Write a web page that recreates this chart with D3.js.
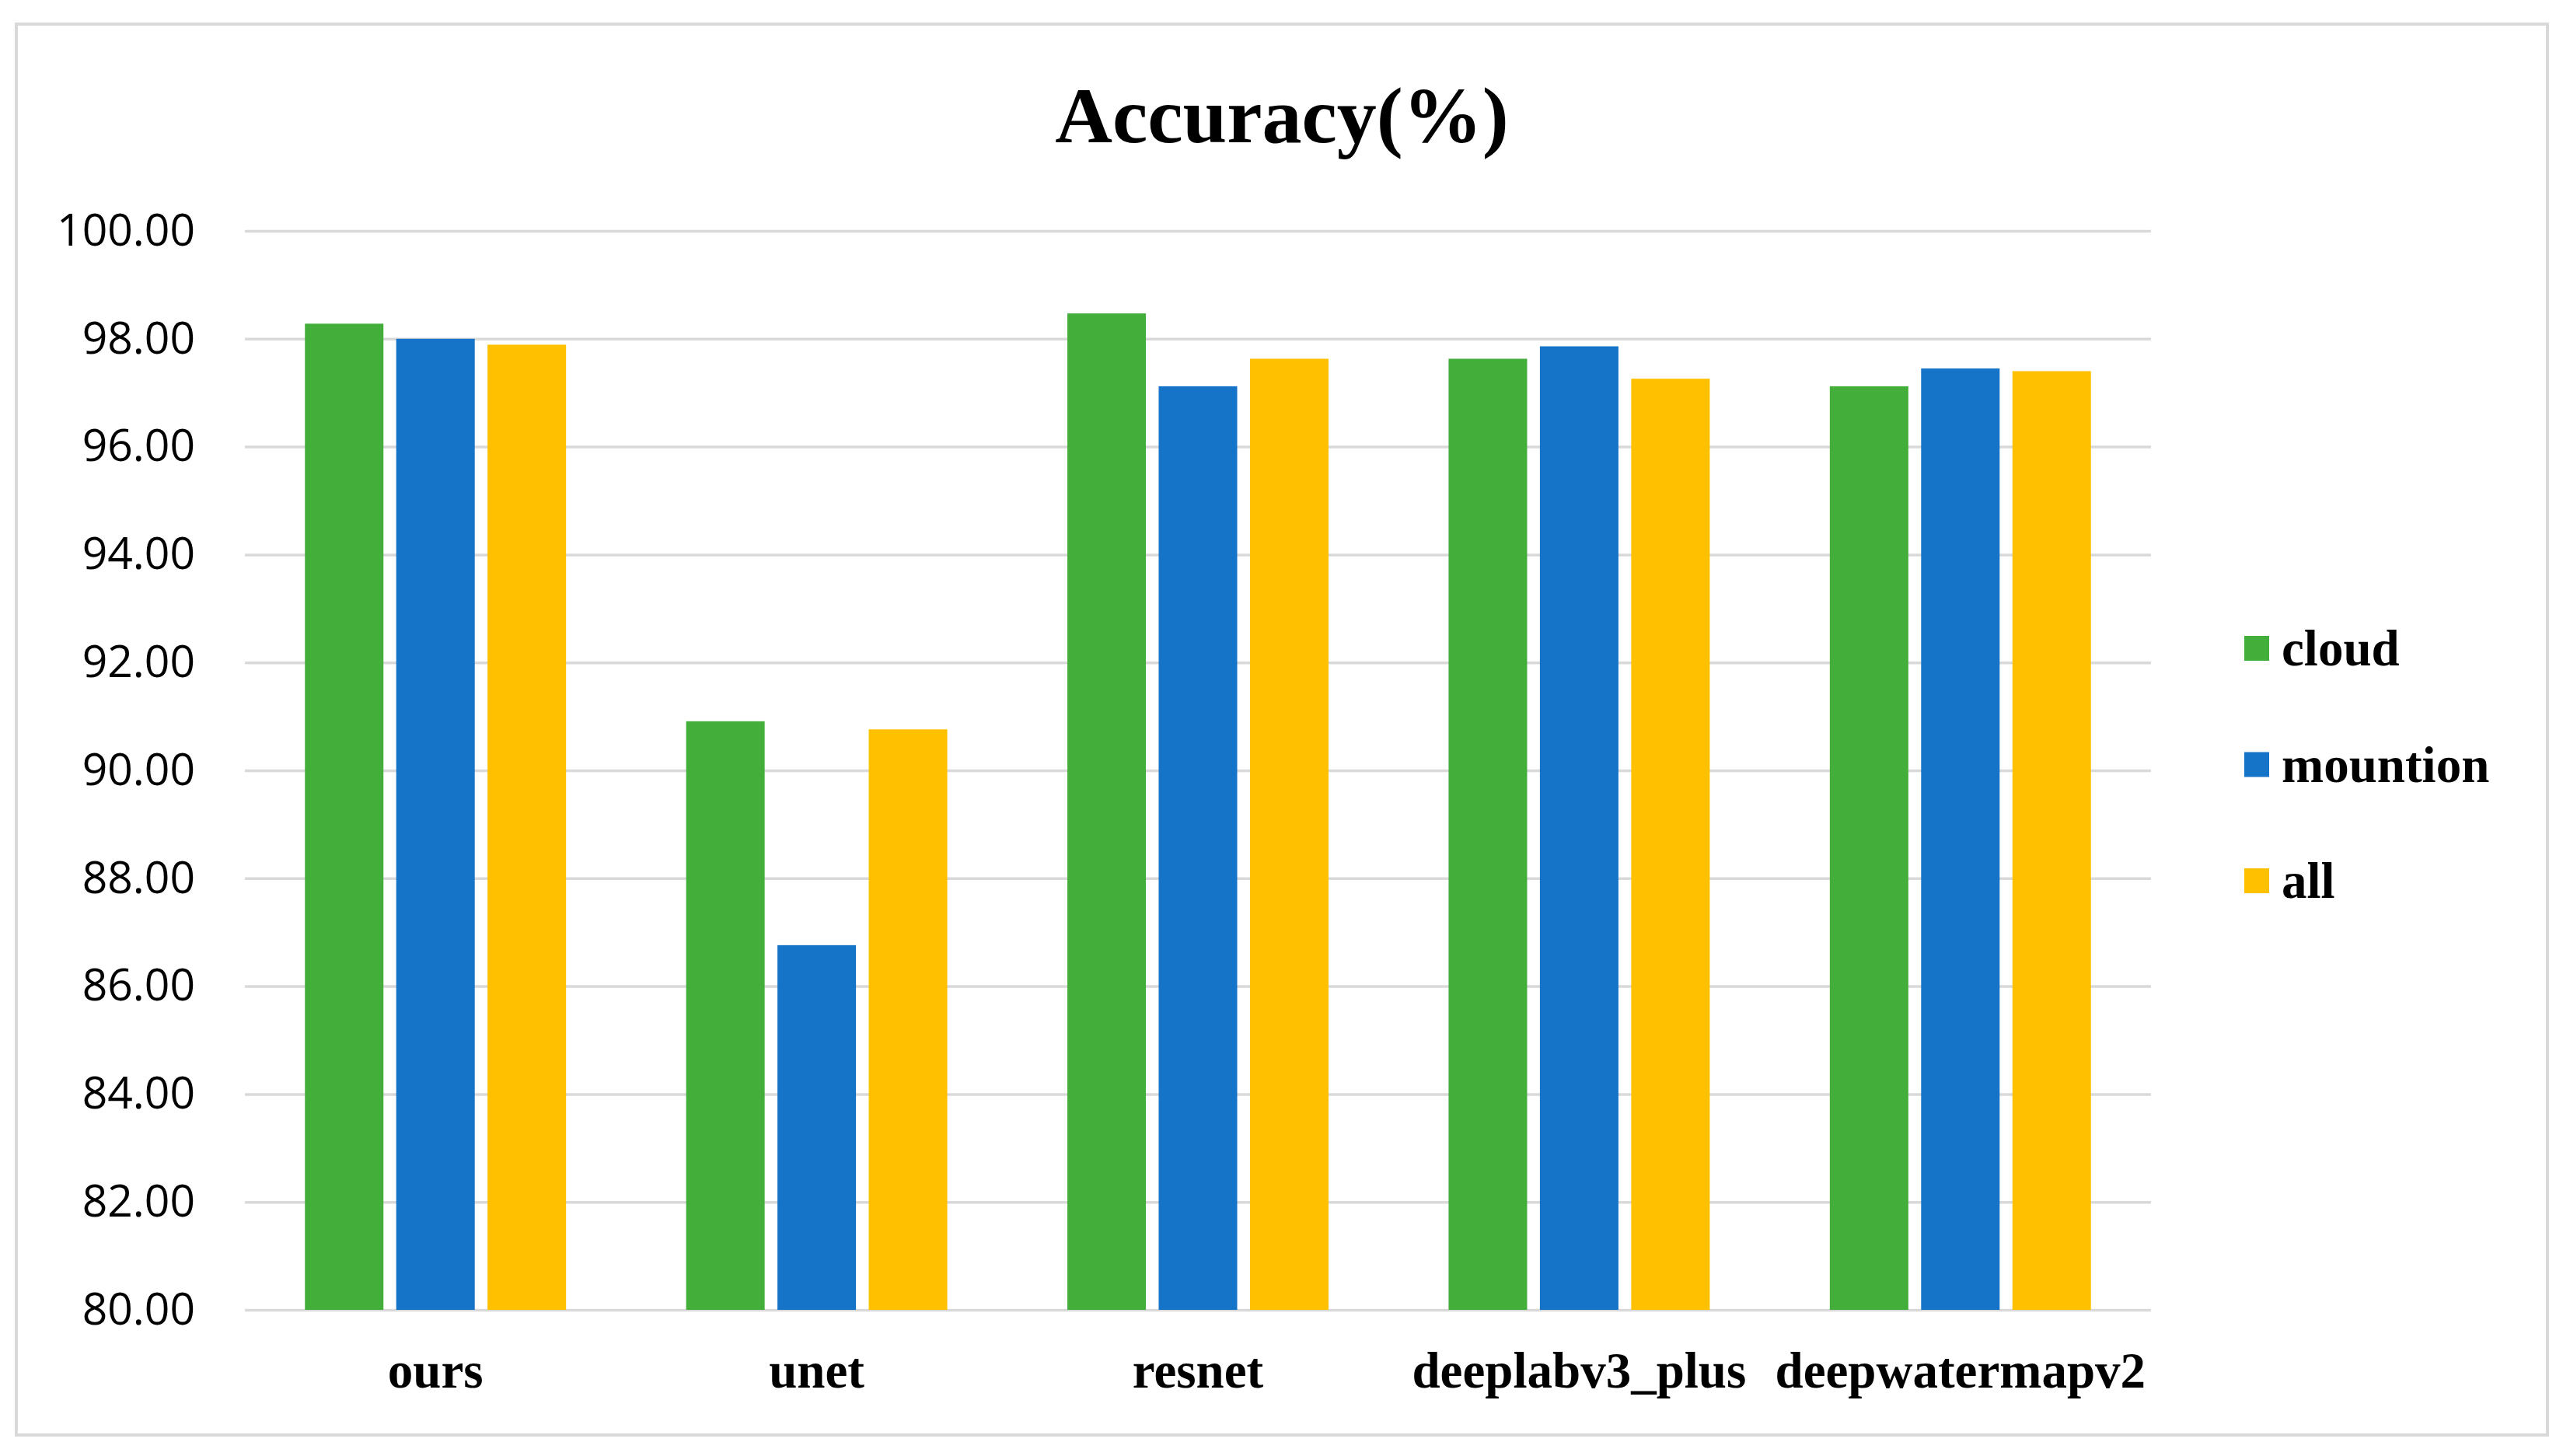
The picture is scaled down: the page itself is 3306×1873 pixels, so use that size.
<!DOCTYPE html>
<html>
<head>
<meta charset="utf-8">
<script src="https://cdn.jsdelivr.net/npm/d3@7"></script>
<style>
  html, body { margin: 0; padding: 0; background: #fff; }
  svg { display: block; }
</style>
</head>
<body>
<svg id="chart"></svg>
<script>
// ── DATA ─────────────────────────────────────────────────────────────────────
const categories = ['ours', 'unet', 'resnet', 'deeplabv3_plus', 'deepwatermapv2'];
const seriesNames = ['cloud', 'mountion', 'all'];
const cloud    = [98.28, 90.91, 98.47, 97.63, 97.12];
const mountion = [98.00, 86.76, 97.12, 97.86, 97.45];
const all      = [97.89, 90.76, 97.63, 97.26, 97.40];
const yTicks   = [80, 82, 84, 86, 88, 90, 92, 94, 96, 98, 100];

const seriesValues = { cloud, mountion, all };
const colors = { cloud: '#44ae3b', mountion: '#1573c8', all: '#ffc000' };

// ── SETUP ────────────────────────────────────────────────────────────────────
const W = 3306, H = 1873;
const svg = d3.select('#chart').attr('width', W).attr('height', H);

svg.append('rect').attr('width', W).attr('height', H).attr('fill', '#fff');

// chart frame
svg.append('rect')
  .attr('x', 21).attr('y', 31)
  .attr('width', 3256).attr('height', 1815)
  .attr('fill', '#fff')
  .attr('stroke', '#d9d9d9')
  .attr('stroke-width', 4);

const plot = { left: 315, right: 2767, top: 297, bottom: 1685 };

const x0 = d3.scaleBand().domain(categories).range([plot.left, plot.right]).padding(0);
const groupW = x0.bandwidth() * 0.685;
const x1 = d3.scaleBand().domain(seriesNames).range([0, groupW]).paddingInner(0.14).paddingOuter(0);
const y = d3.scaleLinear().domain([80, 100]).range([plot.bottom, plot.top]);

// ── GRID + Y AXIS ────────────────────────────────────────────────────────────
const yAxis = svg.append('g')
  .attr('transform', `translate(${plot.left},0)`)
  .call(d3.axisLeft(y).tickValues(yTicks).tickSize(-(plot.right - plot.left))
    .tickPadding(64).tickFormat(d3.format('.2f')));

yAxis.select('.domain').remove();
yAxis.selectAll('.tick line').attr('stroke', '#d9d9d9').attr('stroke-width', 3.5);
yAxis.selectAll('.tick text')
  .attr('font-family', '"Open Sans", sans-serif')
  .attr('font-size', 57)
  .attr('fill', '#000');

// ── BARS ─────────────────────────────────────────────────────────────────────
const groups = svg.append('g').selectAll('g')
  .data(categories)
  .join('g')
  .attr('transform', d => `translate(${x0(d) + (x0.bandwidth() - groupW) / 2},0)`);

groups.selectAll('rect')
  .data((d, i) => seriesNames.map(s => ({ s, v: seriesValues[s][i] })))
  .join('rect')
  .attr('x', d => x1(d.s))
  .attr('y', d => y(d.v))
  .attr('width', x1.bandwidth())
  .attr('height', d => y(80) - y(d.v))
  .attr('fill', d => colors[d.s]);

// ── X LABELS ─────────────────────────────────────────────────────────────────
svg.append('g').selectAll('text')
  .data(categories)
  .join('text')
  .attr('x', d => x0(d) + x0.bandwidth() / 2)
  .attr('y', 1785)
  .attr('text-anchor', 'middle')
  .attr('font-family', '"Liberation Serif", "Times New Roman", serif')
  .attr('font-weight', 700)
  .attr('font-size', 65)
  .attr('fill', '#000')
  .text(d => d);

// ── TITLE ────────────────────────────────────────────────────────────────────
svg.append('text')
  .attr('x', 1649).attr('y', 183)
  .attr('text-anchor', 'middle')
  .attr('font-family', '"Liberation Serif", "Times New Roman", serif')
  .attr('font-weight', 700)
  .attr('font-size', 102)
  .attr('fill', '#000')
  .text('Accuracy(%)');

// ── LEGEND ───────────────────────────────────────────────────────────────────
const legend = svg.append('g').selectAll('g')
  .data(seriesNames)
  .join('g')
  .attr('transform', (d, i) => `translate(2887,${834 + i * 149.5})`);

legend.append('rect')
  .attr('x', 0).attr('y', -16)
  .attr('width', 32).attr('height', 32)
  .attr('fill', d => colors[d]);

legend.append('text')
  .attr('x', 48).attr('y', 22)
  .attr('font-family', '"Liberation Serif", "Times New Roman", serif')
  .attr('font-weight', 700)
  .attr('font-size', 65)
  .attr('fill', '#000')
  .text(d => d);
</script>
</body>
</html>
